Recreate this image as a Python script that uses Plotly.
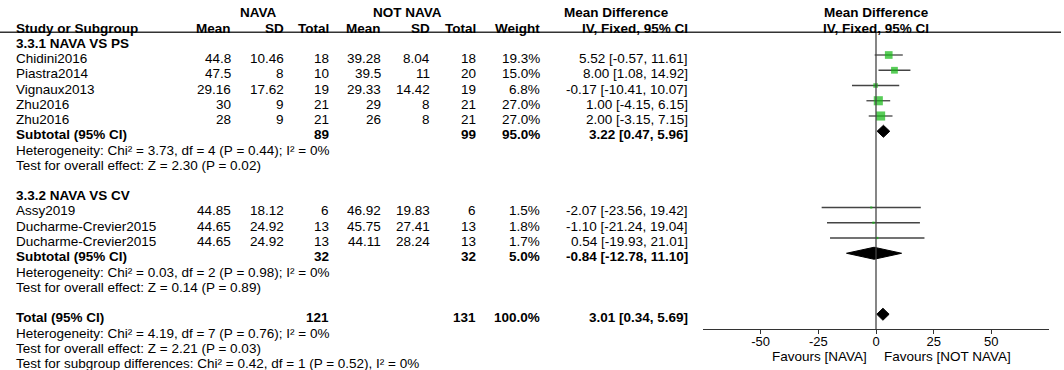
import plotly.graph_objects as go

# ---------------- data ----------------
studies = ["Chidini2016", "Piastra2014", "Vignaux2013", "Zhu2016", "Zhu2016",
           "Assy2019", "Ducharme-Crevier2015", "Ducharme-Crevier2015"]
group = [0, 0, 0, 0, 0, 1, 1, 1]
nava_mean = [44.8, 47.5, 29.16, 30, 28, 44.85, 44.65, 44.65]
nava_sd = [10.46, 8, 17.62, 9, 9, 18.12, 24.92, 24.92]
nava_n = [18, 10, 19, 21, 21, 6, 13, 13]
ctrl_mean = [39.28, 39.5, 29.33, 29, 26, 46.92, 45.75, 44.11]
ctrl_sd = [8.04, 11, 14.42, 8, 8, 19.83, 27.41, 28.24]
ctrl_n = [18, 20, 19, 21, 21, 6, 13, 13]
weight = [19.3, 15.0, 6.8, 27.0, 27.0, 1.5, 1.8, 1.7]
md = [5.52, 8.00, -0.17, 1.00, 2.00, -2.07, -1.10, 0.54]
ci_lo = [-0.57, 1.08, -10.41, -4.15, -3.15, -23.56, -21.24, -19.93]
ci_hi = [11.61, 14.92, 10.07, 6.15, 7.15, 19.42, 19.04, 21.01]

group_names = ["3.3.1 NAVA VS PS", "3.3.2 NAVA VS CV"]
sub_nava_n = [89, 32]
sub_ctrl_n = [99, 32]
sub_weight = [95.0, 5.0]
sub_md = [3.22, -0.84]
sub_lo = [0.47, -12.78]
sub_hi = [5.96, 11.10]
sub_het = ["Heterogeneity: Chi² = 3.73, df = 4 (P = 0.44); I² = 0%",
           "Heterogeneity: Chi² = 0.03, df = 2 (P = 0.98); I² = 0%"]
sub_effect = ["Test for overall effect: Z = 2.30 (P = 0.02)",
              "Test for overall effect: Z = 0.14 (P = 0.89)"]

total_nava_n = 121
total_ctrl_n = 131
total_weight = 100.0
total_md = 3.01
total_lo = 0.34
total_hi = 5.69
total_notes = ["Heterogeneity: Chi² = 4.19, df = 7 (P = 0.76); I² = 0%",
               "Test for overall effect: Z = 2.21 (P = 0.03)",
               "Test for subgroup differences: Chi² = 0.42, df = 1 (P = 0.52), I² = 0%"]

tick_vals = [-50, -25, 0, 25, 50]
tick_text = ["-50", "-25", "0", "25", "50"]
favours = ["Favours [NAVA]", "Favours [NOT NAVA]"]

# ---------------- style / layout constants ----------------
W, H = 1064, 370
PAGE_OFF = 0          # body margin removed in post_script
FONT = "Liberation Sans, Arial, sans-serif"
FS = 13.5
ROW0, ROWH, TEXT_DY = 39.75, 15.25, 3.5
AXIS_Y = 329.3
HEAD_LINE_Y = 32.3
LINE_COL = "#444444"
GREEN = "#12b812"

COL_STUDY = 14
COL_R = [233, 286, 331, 383, 432, 478, 542, 690]


def px(x):
    return (x - PAGE_OFF) / W


def py(y):
    return 1 - (y - PAGE_OFF) / H


def fmt(v):
    return f"{v:g}"


def ci_text(m, lo, hi):
    return f"{m:.2f} [{lo:.2f}, {hi:.2f}]"


annotations = []


def txt(x, y, s, anchor="left", bold=False, size=FS):
    annotations.append(dict(
        x=px(x), y=py(y), xref="paper", yref="paper", text=s, showarrow=False,
        xanchor=anchor, yanchor="middle",
        font=dict(family=FONT, size=size, color="black",
                  weight="bold" if bold else "normal")))


def row_y(k):
    return ROW0 + ROWH * k


# headers
ty = row_y(-2) + TEXT_DY
txt(258, ty, "NAVA", "center", True)
txt(407, ty, "NOT NAVA", "center", True)
txt(616, ty, "Mean Difference", "center", True)
txt(876, ty, "Mean Difference", "center", True)
ty = row_y(-1) + TEXT_DY
txt(COL_STUDY, ty, "Study or Subgroup", "left", True)
for x, s in zip(COL_R, ["Mean", "SD", "Total", "Mean", "SD", "Total", "Weight", "IV, Fixed, 95% CI"]):
    txt(x, ty, s, "right", True)
txt(876, ty, "IV, Fixed, 95% CI", "center", True)

fig = go.Figure()

k = 0
line_x, line_y = [], []
sq_x, sq_y, sq_s = [], [], []
diamonds = []
for g, gname in enumerate(group_names):
    txt(COL_STUDY, row_y(k) + TEXT_DY, gname, "left", True)
    k += 1
    for i in range(len(studies)):
        if group[i] != g:
            continue
        y = row_y(k)
        vals = [fmt(nava_mean[i]), fmt(nava_sd[i]), str(nava_n[i]),
                fmt(ctrl_mean[i]), fmt(ctrl_sd[i]), str(ctrl_n[i]),
                f"{weight[i]:.1f}%", ci_text(md[i], ci_lo[i], ci_hi[i])]
        txt(COL_STUDY, y + TEXT_DY, studies[i])
        for x, s in zip(COL_R, vals):
            txt(x, y + TEXT_DY, s, "right")
        line_x += [ci_lo[i], ci_hi[i], None]
        line_y += [y, y, None]
        sq_x.append(md[i])
        sq_y.append(y)
        sq_s.append(1.75 * weight[i] ** 0.5)
        k += 1
    y = row_y(k)
    txt(COL_STUDY, y + TEXT_DY, "Subtotal (95% CI)", "left", True)
    txt(COL_R[2], y + TEXT_DY, str(sub_nava_n[g]), "right", True)
    txt(COL_R[5], y + TEXT_DY, str(sub_ctrl_n[g]), "right", True)
    txt(COL_R[6], y + TEXT_DY, f"{sub_weight[g]:.1f}%", "right", True)
    txt(COL_R[7], y + TEXT_DY, ci_text(sub_md[g], sub_lo[g], sub_hi[g]), "right", True)
    diamonds.append((sub_md[g], sub_lo[g], sub_hi[g], y))
    k += 1
    txt(COL_STUDY, row_y(k) + TEXT_DY, sub_het[g])
    k += 1
    txt(COL_STUDY, row_y(k) + TEXT_DY, sub_effect[g])
    k += 2

y = row_y(k)
txt(COL_STUDY, y + TEXT_DY, "Total (95% CI)", "left", True)
txt(COL_R[2], y + TEXT_DY, str(total_nava_n), "right", True)
txt(COL_R[5], y + TEXT_DY, str(total_ctrl_n), "right", True)
txt(COL_R[6], y + TEXT_DY, f"{total_weight:.1f}%", "right", True)
txt(COL_R[7], y + TEXT_DY, ci_text(total_md, total_lo, total_hi), "right", True)
diamonds.append((total_md, total_lo, total_hi, y))
for note in total_notes:
    k += 1
    txt(COL_STUDY, row_y(k) + TEXT_DY, note)

for s, xv, anc in [(favours[0], -2.9, "right"), (favours[1], 2.7, "left")]:
    annotations.append(dict(x=xv, y=py(356), xref="x", yref="paper", text=s,
                            showarrow=False, xanchor=anc, yanchor="middle",
                            font=dict(family=FONT, size=FS, color="black")))

fig.add_trace(go.Scatter(x=line_x, y=line_y, mode="lines",
                         line=dict(color=LINE_COL, width=1.3),
                         hoverinfo="skip", showlegend=False))
fig.add_trace(go.Scatter(x=sq_x, y=sq_y, mode="markers",
                         marker=dict(symbol="square", size=sq_s, color=GREEN,
                                     line=dict(width=0)),
                         showlegend=False))
DH = 6
for m, lo, hi, y in diamonds:
    fig.add_trace(go.Scatter(x=[lo, m, hi, m, lo], y=[y, y - DH, y, y + DH, y],
                             mode="lines", fill="toself", fillcolor="black",
                             line=dict(color="black", width=1),
                             hoverinfo="skip", showlegend=False))

shapes = [
    dict(type="line", xref="paper", yref="y", x0=px(0), x1=px(1061),
         y0=HEAD_LINE_Y, y1=HEAD_LINE_Y, line=dict(color="#333333", width=1.5)),
    dict(type="line", xref="x", yref="y", x0=0, x1=0, y0=HEAD_LINE_Y, y1=AXIS_Y,
         line=dict(color=LINE_COL, width=1.3)),
]

Y_TOP = PAGE_OFF
fig.update_layout(
    width=W, height=H, margin=dict(l=0, r=0, t=0, b=0),
    paper_bgcolor="white", plot_bgcolor="white",
    annotations=annotations, shapes=shapes,
    xaxis=dict(domain=[px(703), px(1049)], range=[-75, 75], showgrid=False,
               zeroline=False, showline=True, linecolor="#333333", linewidth=1.3,
               ticks="outside", ticklen=4, tickcolor="#333333", tickwidth=1.3,
               tickvals=tick_vals, ticktext=tick_text, ticklabelstandoff=-4,
               tickfont=dict(family=FONT, size=13, color="black"),
               fixedrange=True),
    yaxis=dict(domain=[py(AXIS_Y), py(Y_TOP)], range=[AXIS_Y, Y_TOP], visible=False,
               fixedrange=True),
)

fig.write_html("out.html", config={"displayModeBar": False},
               post_script="document.body.style.margin='0px';")
